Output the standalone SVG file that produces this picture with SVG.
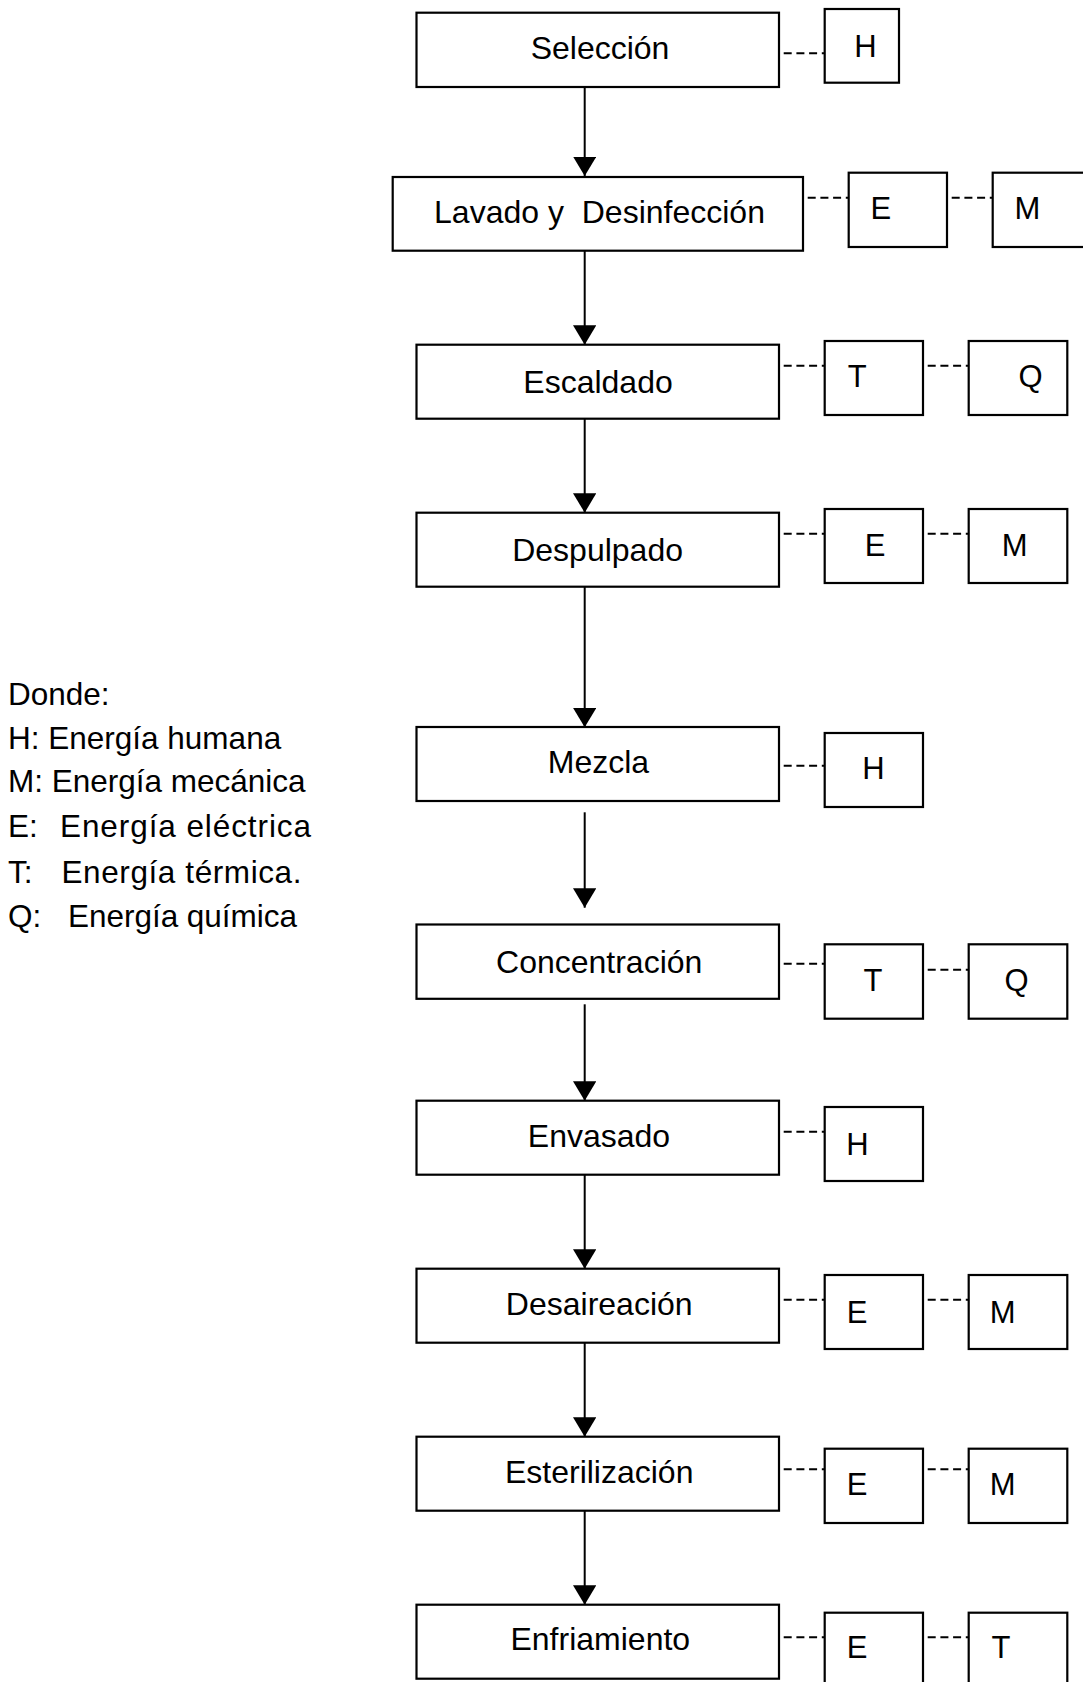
<svg xmlns="http://www.w3.org/2000/svg" width="1083" height="1682" viewBox="0 0 1083 1682">
  <style>
    .step { fill: #fff; stroke: #000; stroke-width: 2.2; }
    .src { fill: #fff; stroke: #000; stroke-width: 2.2; }
    .label { font-family: "Liberation Sans", Arial, sans-serif; font-size: 32px; fill: #000; text-anchor: middle; white-space: pre; }
    .tag { font-family: "Liberation Sans", Arial, sans-serif; font-size: 31px; fill: #000; }
    .legend { font-family: "Liberation Sans", Arial, sans-serif; font-size: 31.5px; fill: #000; white-space: pre; }
    .flow { stroke: #000; stroke-width: 2; fill: none; marker-end: url(#arrow); }
    .link { stroke: #000; stroke-width: 2; stroke-dasharray: 8 4.7; stroke-dashoffset: 8; fill: none; }
  </style>
  <defs>
    <marker id="arrow" markerUnits="userSpaceOnUse" markerWidth="20" markerHeight="24" viewBox="0 0 20 24" refX="19.5" refY="11.7" orient="auto">
      <path d="M0,0 L19.5,11.7 L0,23.4 Z" fill="#000"/>
    </marker>
  </defs>

  <!-- connectors: process flow and energy links -->
  <g id="connectors">
    <path class="flow" d="M584.7,80 V176"/>
    <path class="flow" d="M584.7,248 V344.7"/>
    <path class="flow" d="M584.7,416 V512.7"/>
    <path class="flow" d="M584.7,584 V727.3"/>
    <path class="flow" d="M584.7,812.3 V907.7"/>
    <path class="flow" d="M584.7,1004.3 V1100.7"/>
    <path class="flow" d="M584.7,1172 V1268.7"/>
    <path class="flow" d="M584.7,1340 V1436.7"/>
    <path class="flow" d="M584.7,1508.3 V1604.7"/>

    <path class="link" d="M779,53.3 H824.7"/>
    <path class="link" d="M803,197.7 H848.7"/>
    <path class="link" d="M947,197.7 H992.7"/>
    <path class="link" d="M779,365.7 H824.7"/>
    <path class="link" d="M923,365.7 H968.7"/>
    <path class="link" d="M779,533.7 H824.7"/>
    <path class="link" d="M923,533.7 H968.7"/>
    <path class="link" d="M779,765.7 H824.7"/>
    <path class="link" d="M779,963.7 H824.7"/>
    <path class="link" d="M923,969.7 H968.7"/>
    <path class="link" d="M779,1131.7 H824.7"/>
    <path class="link" d="M779,1299.7 H824.7"/>
    <path class="link" d="M923,1299.7 H968.7"/>
    <path class="link" d="M779,1469.3 H824.7"/>
    <path class="link" d="M923,1469.3 H968.7"/>
    <path class="link" d="M779,1637.3 H824.7"/>
    <path class="link" d="M923,1637.3 H968.7"/>
  </g>

  <!-- process steps -->
  <g id="seleccion">
    <rect class="step" x="416.5" y="12.7" width="362.5" height="74.3"/>
    <text class="label" x="600" y="59.3">Selección</text>
  </g>
  <g id="lavado">
    <rect class="step" x="392.7" y="177" width="410.3" height="73.7"/>
    <text class="label" x="599.5" y="223">Lavado y  Desinfección</text>
  </g>
  <g id="escaldado">
    <rect class="step" x="416.5" y="344.7" width="362.5" height="74"/>
    <text class="label" x="598" y="393.3">Escaldado</text>
  </g>
  <g id="despulpado">
    <rect class="step" x="416.5" y="512.7" width="362.5" height="74"/>
    <text class="label" x="597.6" y="560.5">Despulpado</text>
  </g>
  <g id="mezcla">
    <rect class="step" x="416.5" y="727" width="362.5" height="74"/>
    <text class="label" x="598.4" y="773.3">Mezcla</text>
  </g>
  <g id="concentracion">
    <rect class="step" x="416.5" y="924.5" width="362.5" height="74.3"/>
    <text class="label" x="599.2" y="972.7">Concentración</text>
  </g>
  <g id="envasado">
    <rect class="step" x="416.5" y="1100.7" width="362.5" height="74"/>
    <text class="label" x="599" y="1147.2">Envasado</text>
  </g>
  <g id="desaireacion">
    <rect class="step" x="416.5" y="1268.7" width="362.5" height="74"/>
    <text class="label" x="599.2" y="1315">Desaireación</text>
  </g>
  <g id="esterilizacion">
    <rect class="step" x="416.5" y="1436.7" width="362.5" height="74"/>
    <text class="label" x="599.2" y="1482.7">Esterilización</text>
  </g>
  <g id="enfriamiento">
    <rect class="step" x="416.5" y="1604.7" width="362.5" height="74"/>
    <text class="label" x="600.3" y="1650">Enfriamiento</text>
  </g>

  <!-- energy sources -->
  <g id="sel-h">
    <rect class="src" x="824.7" y="9" width="74.3" height="73.7"/>
    <text class="tag" x="854.3" y="56.7">H</text>
  </g>
  <g id="lav-e">
    <rect class="src" x="848.7" y="172.7" width="98.3" height="74.3"/>
    <text class="tag" x="870.5" y="219.3">E</text>
  </g>
  <g id="lav-m">
    <rect class="src" x="992.7" y="172.7" width="98.3" height="74.3"/>
    <text class="tag" x="1014.4" y="219.3">M</text>
  </g>
  <g id="esc-t">
    <rect class="src" x="824.7" y="341" width="98.3" height="74"/>
    <text class="tag" x="847.7" y="387.3">T</text>
  </g>
  <g id="esc-q">
    <rect class="src" x="968.7" y="341" width="98.6" height="74"/>
    <text class="tag" x="1018.5" y="387.3">Q</text>
  </g>
  <g id="des-e">
    <rect class="src" x="824.7" y="509" width="98.3" height="74"/>
    <text class="tag" x="864.8" y="555.7">E</text>
  </g>
  <g id="des-m">
    <rect class="src" x="968.7" y="509" width="98.6" height="74"/>
    <text class="tag" x="1001.7" y="555.7">M</text>
  </g>
  <g id="mez-h">
    <rect class="src" x="824.7" y="733" width="98.3" height="74"/>
    <text class="tag" x="862.3" y="779">H</text>
  </g>
  <g id="con-t">
    <rect class="src" x="824.7" y="944.3" width="98.3" height="74.4"/>
    <text class="tag" x="863.4" y="990.7">T</text>
  </g>
  <g id="con-q">
    <rect class="src" x="968.7" y="944.3" width="98.6" height="74.4"/>
    <text class="tag" x="1004.5" y="990.7">Q</text>
  </g>
  <g id="env-h">
    <rect class="src" x="824.7" y="1107" width="98.3" height="74"/>
    <text class="tag" x="846.3" y="1155">H</text>
  </g>
  <g id="dea-e">
    <rect class="src" x="824.7" y="1275" width="98.3" height="74"/>
    <text class="tag" x="846.8" y="1323.3">E</text>
  </g>
  <g id="dea-m">
    <rect class="src" x="968.7" y="1275" width="98.6" height="74"/>
    <text class="tag" x="989.7" y="1323.3">M</text>
  </g>
  <g id="est-e">
    <rect class="src" x="824.7" y="1448.7" width="98.3" height="74.3"/>
    <text class="tag" x="846.8" y="1495">E</text>
  </g>
  <g id="est-m">
    <rect class="src" x="968.7" y="1448.7" width="98.6" height="74.3"/>
    <text class="tag" x="989.7" y="1495">M</text>
  </g>
  <g id="enf-e">
    <rect class="src" x="824.7" y="1612.7" width="98.3" height="74"/>
    <text class="tag" x="846.8" y="1658.3">E</text>
  </g>
  <g id="enf-t">
    <rect class="src" x="968.7" y="1612.7" width="98.6" height="74"/>
    <text class="tag" x="991.4" y="1658.3">T</text>
  </g>

  <!-- key -->
  <g id="legend">
    <text class="legend" x="8" y="705">Donde:</text>
    <text class="legend" x="8" y="749.3">H: Energía humana</text>
    <text class="legend" x="8" y="792">M: Energía mecánica</text>
    <text class="legend" x="8" y="837">E:  <tspan x="60" textLength="251">Energía eléctrica</tspan></text>
    <text class="legend" x="8" y="882.5">T:  <tspan x="61.5" textLength="240">Energía térmica.</tspan></text>
    <text class="legend" x="8" y="926.7">Q:  <tspan x="68" textLength="229">Energía química</tspan></text>
  </g>
</svg>
